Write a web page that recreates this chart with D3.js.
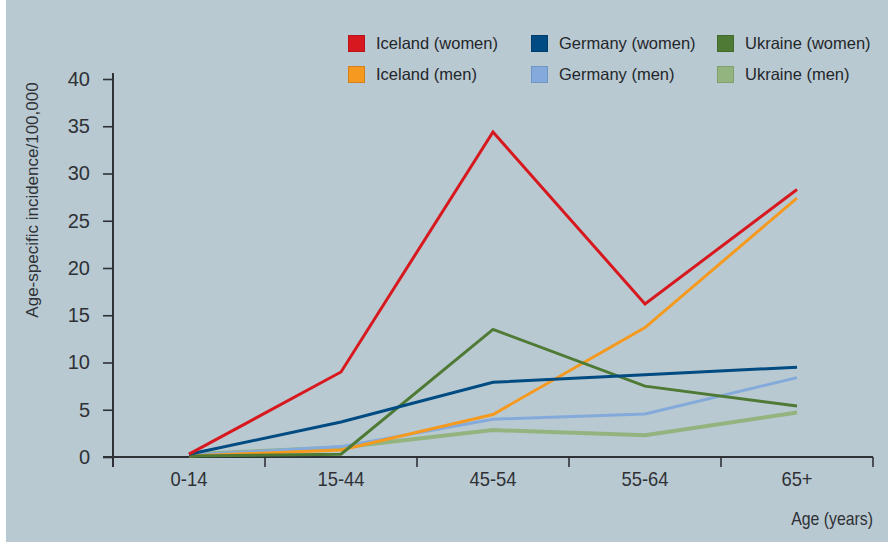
<!DOCTYPE html>
<html>
<head>
<meta charset="utf-8">
<script src="https://cdn.jsdelivr.net/npm/d3@7"></script>
<style>
  body { margin: 0; background: #fff; }
  svg { display: block; }
</style>
</head>
<body>
<div class="chart"></div>
<script>
// categories and values
var ageGroups = ["0-14", "15-44", "45-54", "55-64", "65+"];
var yTicks = [0, 5, 10, 15, 20, 25, 30, 35, 40];

var icelandWomen = [0.3, 9.0, 34.4, 16.2, 28.3];
var icelandMen   = [0.1, 0.75, 4.5, 13.7, 27.4];
var germanyWomen = [0.3, 3.7, 7.9, 8.7, 9.5];
var germanyMen   = [0.2, 1.1, 4.0, 4.55, 8.4];
var ukraineWomen = [0.1, 0.3, 13.5, 7.5, 5.4];
var ukraineMen   = [0.3, 1.0, 2.85, 2.3, 4.7];

var seriesNames = ["Iceland (women)", "Germany (women)", "Ukraine (women)",
                   "Iceland (men)", "Germany (men)", "Ukraine (men)"];
var seriesValues = [icelandWomen, germanyWomen, ukraineWomen,
                    icelandMen, germanyMen, ukraineMen];
var seriesColors = ["#d7191f", "#004b82", "#4e7a35",
                    "#f59a1f", "#84aadb", "#93b47f"];
var seriesBorders = ["#b8141a", "#003d6b", "#416a2b",
                     "#d2801a", "#6f95c7", "#7f9f6c"];

var width = 888, height = 548;

var svg = d3.select("div.chart")
    .append("svg")
    .attr("width", width)
    .attr("height", height);

// panel background
svg.append("rect")
    .attr("x", 6).attr("y", 0)
    .attr("width", width - 6).attr("height", height - 6)
    .attr("fill", "#b9c9d1");

var x = d3.scaleBand()
    .domain(ageGroups)
    .range([113, 873])
    .padding(0);

var y = d3.scaleLinear()
    .domain([0, 40])
    .range([457, 79]);

var axisColor = "#2e3136";

// y axis
var yAxis = svg.append("g")
    .attr("transform", "translate(113,0)")
    .call(d3.axisLeft(y).tickValues(yTicks).tickSize(10).tickPadding(13).tickFormat(d3.format("d")));
yAxis.select(".domain").remove();
yAxis.selectAll("line").attr("stroke", axisColor).attr("stroke-width", 1.6);
yAxis.selectAll("text")
    .attr("fill", axisColor)
    .style("font-family", "'Liberation Sans', Arial, sans-serif")
    .style("font-size", "20px");

svg.append("line")
    .attr("x1", 113).attr("x2", 113)
    .attr("y1", y(40) - 6).attr("y2", y(0) + 10)
    .attr("stroke", axisColor).attr("stroke-width", 2);

// x axis
svg.append("line")
    .attr("x1", 103).attr("x2", x.range()[1])
    .attr("y1", y(0)).attr("y2", y(0))
    .attr("stroke", axisColor).attr("stroke-width", 2);

var edges = ageGroups.map(function (d) { return x(d); }).concat([x.range()[1]]);
svg.selectAll("line.xtick")
    .data(edges)
    .enter().append("line")
    .attr("class", "xtick")
    .attr("x1", function (d) { return d; })
    .attr("x2", function (d) { return d; })
    .attr("y1", y(0)).attr("y2", y(0) + 10)
    .attr("stroke", axisColor).attr("stroke-width", 1.6);

var xAxis = svg.append("g")
    .attr("transform", "translate(0," + y(0) + ")")
    .call(d3.axisBottom(x).tickSize(0).tickPadding(15));
xAxis.select(".domain").remove();
// slightly condensed like the original labels
xAxis.selectAll("text")
    .attr("fill", axisColor)
    .attr("transform", "scale(0.92,1)")
    .style("font-family", "'Liberation Sans', Arial, sans-serif")
    .style("font-size", "20px");

// axis titles
svg.append("text")
    .attr("transform", "translate(38,200) rotate(-90)")
    .attr("text-anchor", "middle")
    .attr("fill", axisColor)
    .style("font-family", "'Liberation Sans', Arial, sans-serif")
    .style("font-size", "17px")
    .text("Age-specific incidence/100,000");

svg.append("text")
    .attr("transform", "translate(873,525) scale(0.88,1)")
    .attr("text-anchor", "end")
    .attr("fill", axisColor)
    .style("font-family", "'Liberation Sans', Arial, sans-serif")
    .style("font-size", "18px")
    .text("Age (years)");

// lines (draw light ones first)
var line = d3.line()
    .x(function (d, i) { return x(ageGroups[i]) + x.bandwidth() / 2; })
    .y(function (d) { return y(d); });

var drawOrder = [5, 4, 3, 2, 1, 0];
drawOrder.forEach(function (k) {
    svg.append("path")
        .datum(seriesValues[k])
        .attr("d", line)
        .attr("fill", "none")
        .attr("stroke", seriesColors[k])
        .attr("stroke-width", k == 5 ? 4 : 3);
});

// legend
var legendX = [348, 531, 717];
var legendY = [35, 66];
seriesNames.forEach(function (name, i) {
    var col = i % 3, row = Math.floor(i / 3);
    var g = svg.append("g")
        .attr("transform", "translate(" + legendX[col] + "," + legendY[row] + ")");
    g.append("rect")
        .attr("x", 0.5).attr("y", 0.5)
        .attr("width", 16).attr("height", 16)
        .attr("fill", seriesColors[i])
        .attr("stroke", seriesBorders[i]);
    g.append("text")
        .attr("x", 28).attr("y", 14)
        .attr("fill", "#23262b")
        .style("font-family", "'Liberation Sans', Arial, sans-serif")
        .style("font-size", "16.5px")
        .text(name);
});
</script>
</body>
</html>
